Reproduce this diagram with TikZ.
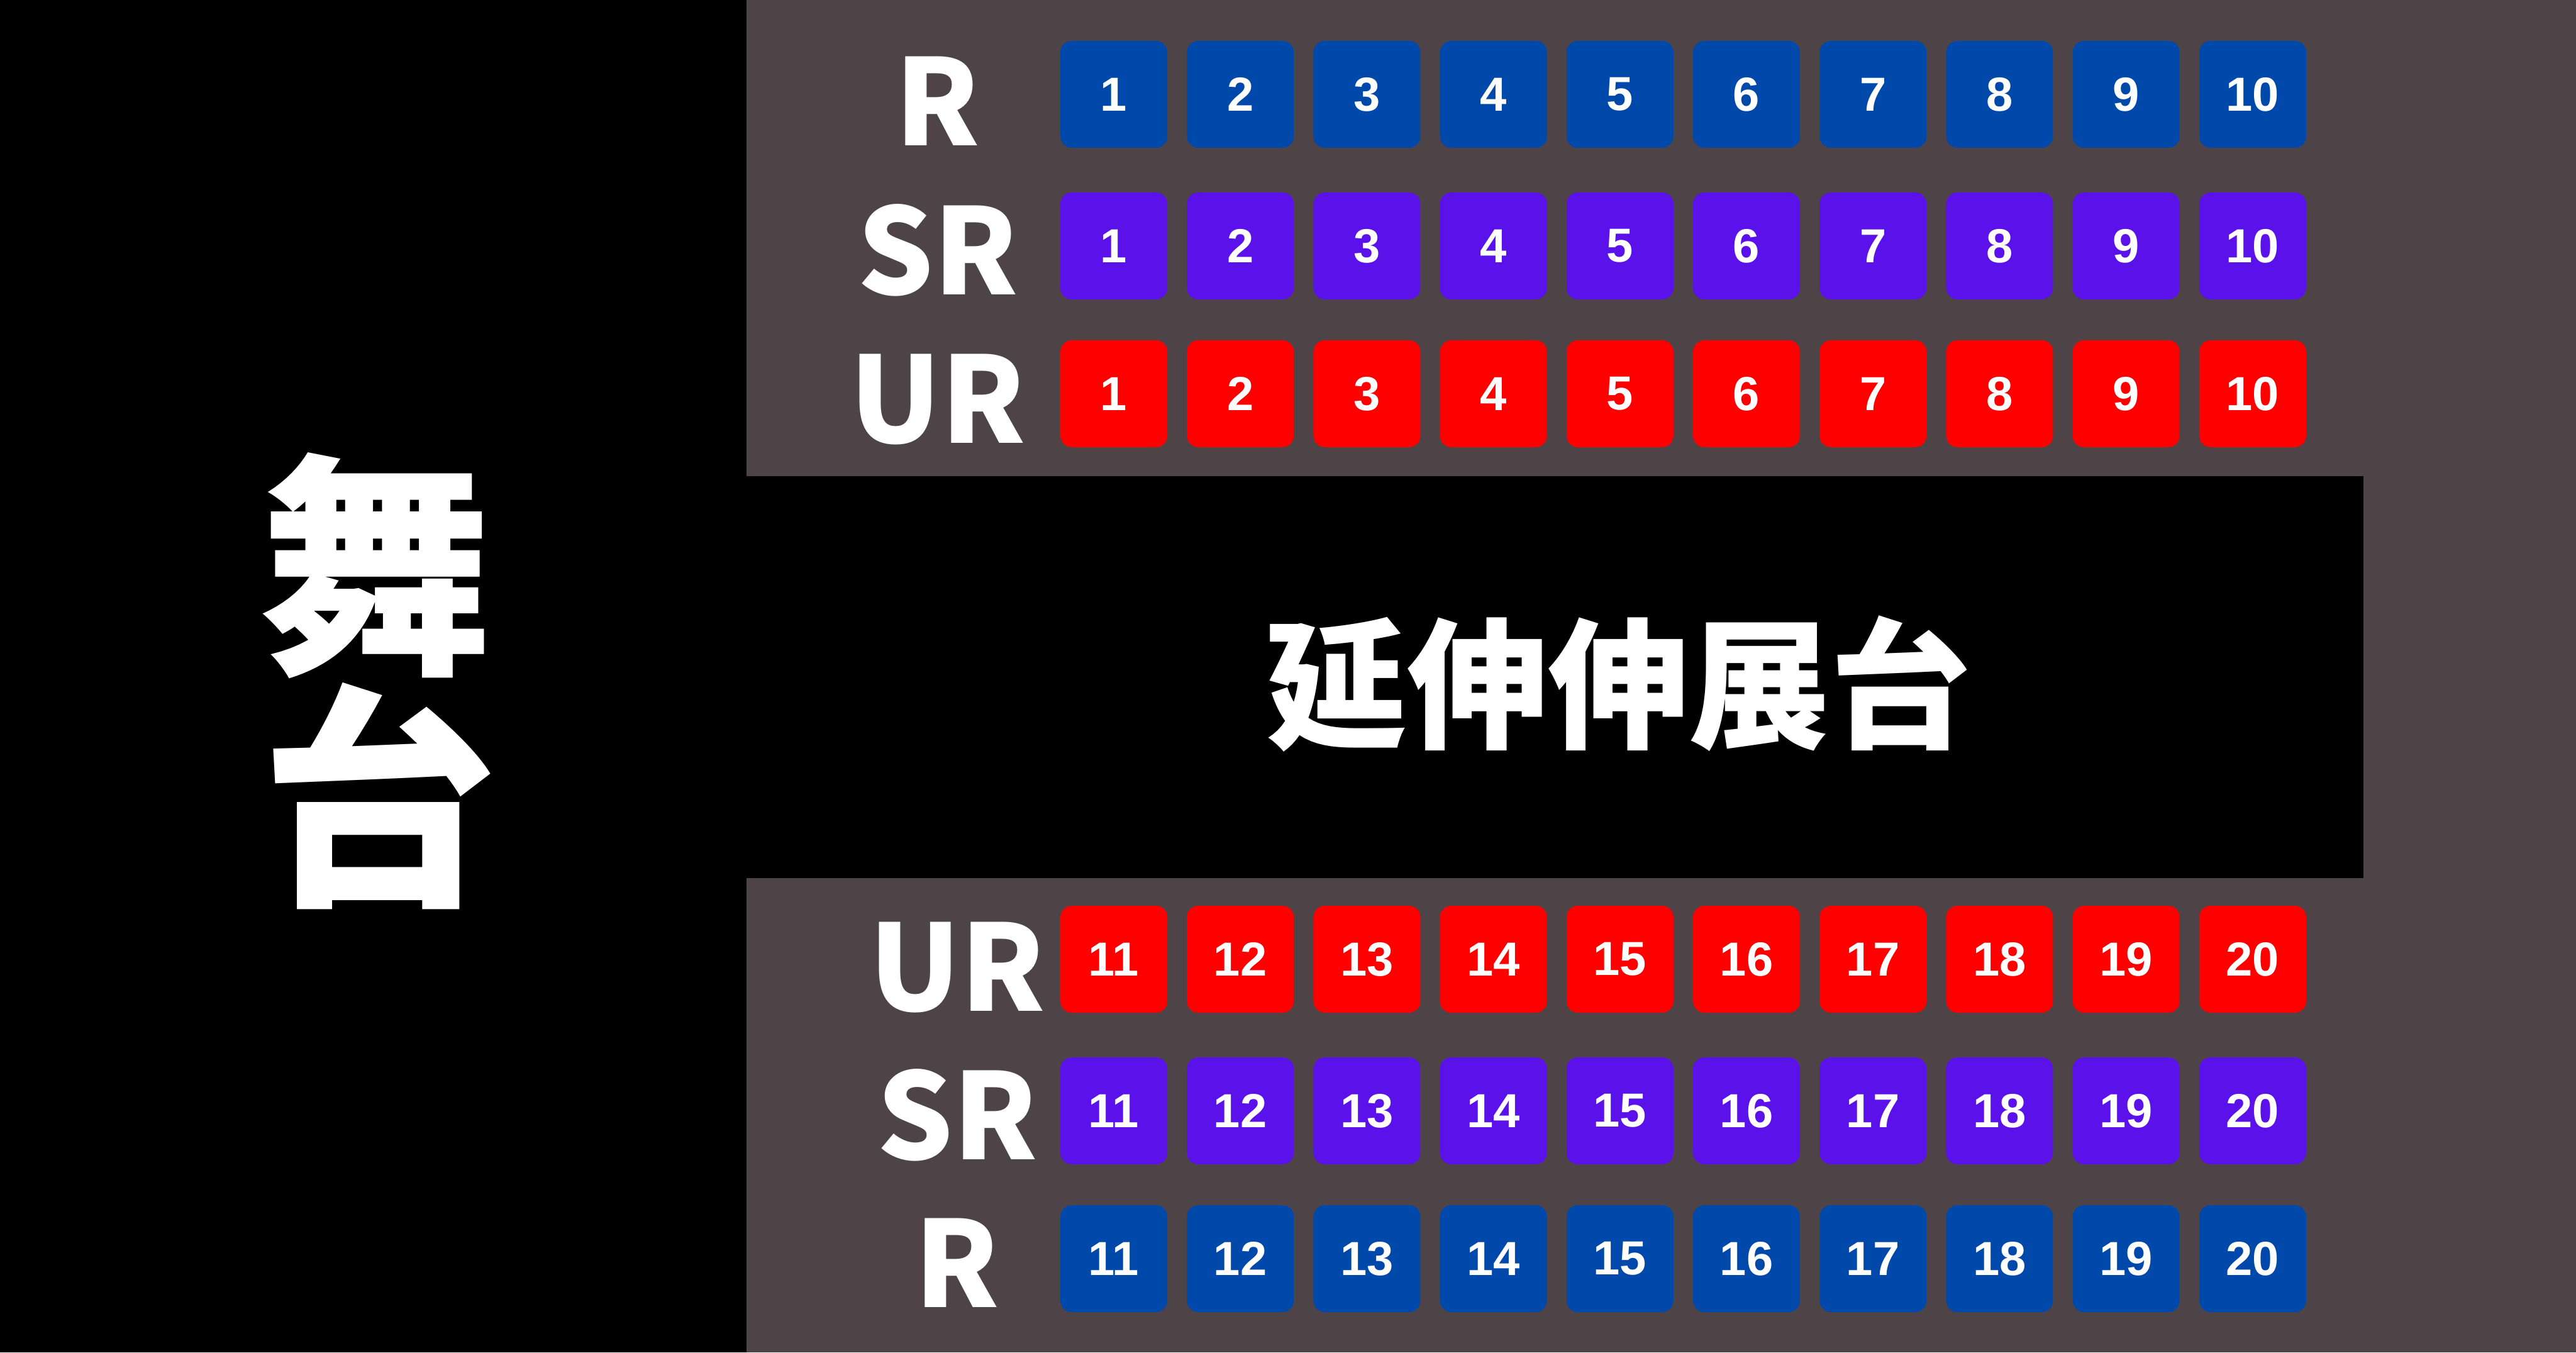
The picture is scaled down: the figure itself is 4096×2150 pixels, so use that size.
\documentclass[tikz,border=0pt]{standalone}
\usepackage{fontspec}
\newfontfamily\cjk{Noto Sans CJK JP}
\newfontfamily\numfont{Liberation Sans}
\definecolor{hall}{HTML}{4E4448}
\definecolor{seatR}{HTML}{0049AA}
\definecolor{seatSR}{HTML}{5B12EA}
\definecolor{seatUR}{HTML}{FF0000}
\begin{document}
\begin{tikzpicture}[x=0.25pt,y=-0.25pt,
  seatbox/.style={rounded corners=4.5pt, minimum width=42.5pt, minimum height=42.5pt, inner sep=0pt,
    text=white, font=\numfont\bfseries\fontsize{19}{19}\selectfont},
  rowlabel/.style={anchor=base, inner sep=0pt, text=white, font=\cjk\bfseries\fontsize{47.5}{47.5}\selectfont},
  bigtext/.style={inner sep=0pt, text=white, font=\cjk\bfseries\fontsize{94}{94}\selectfont},
  runtext/.style={inner sep=0pt, text=white, font=\cjk\bfseries\fontsize{56}{56}\selectfont}]
\useasboundingbox (0,0) rectangle (4096,2150);
\fill[black] (0,0) rectangle (4096,2150);
\fill[hall] (1187,0) rectangle (4096,2150);
\fill[black] (1187,757) rectangle (3758,1396);
% stage
\node[bigtext] (stage1) at (598,899) {舞};
\node[bigtext] (stage2) at (601,1266) {台};
% runway
\node[runtext] (runway) at (2573,1087) {延伸伸展台};
% top rows
\foreach \c in {1,...,10} {
  \pgfmathsetmacro{\xx}{1771+201.2*(\c-1)}
  \node[seatbox, fill=seatR]  (rA\c) at (\xx,150) {\c};
  \node[seatbox, fill=seatSR] (sA\c) at (\xx,391) {\c};
  \node[seatbox, fill=seatUR] (uA\c) at (\xx,626) {\c};
}
% bottom rows
\foreach \c in {11,...,20} {
  \pgfmathsetmacro{\xx}{1771+201.2*(\c-11)}
  \node[seatbox, fill=seatUR] (uB\c) at (\xx,1525) {\c};
  \node[seatbox, fill=seatSR] (sB\c) at (\xx,1766) {\c};
  \node[seatbox, fill=seatR]  (rB\c) at (\xx,2001) {\c};
}
% row labels
\node[rowlabel] (labRA) at (1491,232) {R};
\node[rowlabel] (labSA) at (1491,469) {SR};
\node[rowlabel] (labUA) at (1491,704) {UR};
\node[rowlabel] (labUB) at (1522,1607) {UR};
\node[rowlabel] (labSB) at (1522,1843) {SR};
\node[rowlabel] (labRB) at (1522,2078) {R};
\end{tikzpicture}
\end{document}
